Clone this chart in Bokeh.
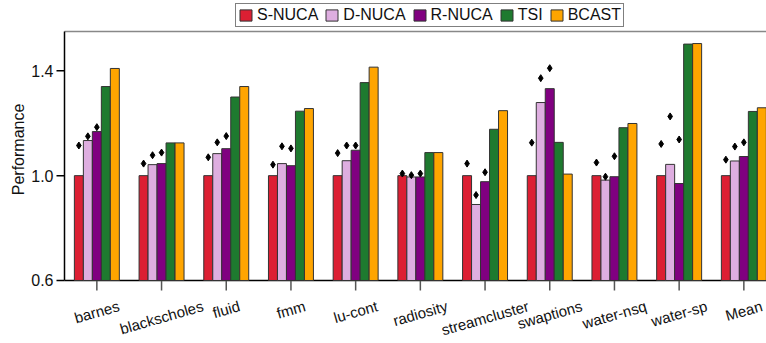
import math
from bokeh.plotting import figure
from bokeh.models import ColumnDataSource, Range1d, Legend, LegendItem, Label
from bokeh.embed import file_html
from bokeh.resources import INLINE
from bokeh.transform import dodge

# ---------------- data ----------------
benchmarks = ["barnes", "blackscholes", "fluid", "fmm", "lu-cont", "radiosity",
              "streamcluster", "swaptions", "water-nsq", "water-sp", "Mean"]
series_names = ["S-NUCA", "D-NUCA", "R-NUCA", "TSI", "BCAST"]

s_nuca = [1.000, 1.000, 1.000, 1.000, 1.000, 1.000, 1.000, 1.000, 1.000, 1.000, 1.000]
d_nuca = [1.134, 1.042, 1.084, 1.046, 1.057, 0.995, 0.890, 1.279, 0.983, 1.043, 1.056]
r_nuca = [1.168, 1.046, 1.103, 1.038, 1.097, 0.995, 0.977, 1.332, 0.996, 0.970, 1.073]
tsi    = [1.340, 1.125, 1.300, 1.246, 1.355, 1.088, 1.177, 1.127, 1.183, 1.502, 1.245]
bcast  = [1.409, 1.125, 1.340, 1.256, 1.414, 1.088, 1.248, 1.006, 1.199, 1.504, 1.259]

# diamond markers drawn above the first three bars of every group
s_nuca_marker = [1.115, 1.046, 1.070, 1.042, 1.086, 1.008, 1.046, 1.126, 1.050, 1.121, 1.061]
d_nuca_marker = [1.150, 1.078, 1.127, 1.112, 1.115, 1.002, 0.926, 1.372, 0.996, 1.226, 1.111]
r_nuca_marker = [1.185, 1.088, 1.151, 1.104, 1.115, 1.008, 1.013, 1.410, 1.074, 1.138, 1.127]

y_ticks = [0.6, 1.0, 1.4]
y_tick_labels = ["0.6", "1.0", "1.4"]
y_axis_top = 1.55
y_title = "Performance"
y_title_pos = 1.1

# ---------------- style / layout ----------------
colors = ["#DC1F33", "#DEAEE0", "#800080", "#1E7A2F", "#FFA500"]
FONT = "Liberation Sans"
TXT = "#111111"
BAR_W = 0.139
ANGLE_DEG = 16.0
# The plotting frame covers the whole canvas; axes are drawn with glyphs so that the
# legend above and the rotated labels below stay visible.
X_LO, X_HI = -1.4892, 10.3501
Y_LO, Y_HI = 0.3596, 1.6683
X_AXIS = -0.5          # left edge of the first group

n = len(benchmarks)
src = ColumnDataSource(dict(
    x=list(range(n)),
    s_nuca=s_nuca, d_nuca=d_nuca, r_nuca=r_nuca, tsi=tsi, bcast=bcast,
    s_m=s_nuca_marker, d_m=d_nuca_marker, r_m=r_nuca_marker,
))

p = figure(width=766, height=343, output_backend="svg", toolbar_location=None,
           x_range=Range1d(X_LO, X_HI), y_range=Range1d(Y_LO, Y_HI),
           x_axis_location=None, y_axis_location=None,
           min_border_left=0, min_border_right=0, min_border_top=0,
           min_border_bottom=0)
p.title.visible = False
p.outline_line_color = None
p.xgrid.visible = False
p.ygrid.visible = False
p.background_fill_color = "white"
p.border_fill_color = "white"

# frame lines: top (grey), baseline and left axis (black)
p.segment(x0=[X_AXIS], y0=[y_axis_top], x1=[X_HI], y1=[y_axis_top],
          line_color="#888888", line_width=1.5)
p.segment(x0=[X_AXIS], y0=[y_ticks[0]], x1=[X_HI], y1=[y_ticks[0]],
          line_color="black", line_width=1.5)
p.segment(x0=[X_AXIS], y0=[y_ticks[0]], x1=[X_AXIS], y1=[y_axis_top],
          line_color="black", line_width=1.5)

# x ticks (below baseline) and y ticks (left of axis)
p.ray(x=list(range(n)), y=[y_ticks[0]] * n, length=10, length_units="screen",
      angle=-math.pi / 2, line_color="#555555", line_width=1.5)
p.ray(x=[X_AXIS] * len(y_ticks), y=y_ticks, length=8, length_units="screen",
      angle=math.pi, line_color="black", line_width=1.5)

cols = ["s_nuca", "d_nuca", "r_nuca", "tsi", "bcast"]
renderers = []
for k, (col, c) in enumerate(zip(cols, colors)):
    r = p.vbar(x=dodge("x", (k - 2) * BAR_W, range=p.x_range), top=col,
               bottom=y_ticks[0], width=BAR_W, source=src, fill_color=c,
               line_color="#333333", line_width=1)
    renderers.append(r)

for k, col in enumerate(["s_m", "d_m", "r_m"]):
    p.scatter(x=dodge("x", (k - 2) * BAR_W, range=p.x_range), y=col, source=src,
              marker="diamond", size=7, fill_color="black", line_color="black")

# y tick labels and y title
for yv, lab in zip(y_ticks, y_tick_labels):
    p.add_layout(Label(x=X_AXIS, y=yv, text=lab, x_offset=-11, text_align="right",
                       text_baseline="middle", text_font=FONT, text_font_size="16px",
                       text_color=TXT))
p.add_layout(Label(x=X_AXIS, y=y_title_pos, text=y_title, x_offset=-46,
                   angle=math.pi / 2, text_align="center", text_baseline="middle",
                   text_font=FONT, text_font_size="16px", text_color=TXT))

# rotated, centred category labels (top of their bounding boxes aligned)
HELV = {"a": 556, "b": 556, "c": 500, "d": 556, "e": 556, "f": 278, "h": 556, "i": 222,
        "k": 500, "l": 222, "m": 833, "n": 556, "o": 556, "p": 556, "q": 556, "r": 333,
        "s": 500, "t": 278, "u": 556, "w": 722, "y": 500, "-": 333, "M": 833}
fs = 15
th = math.radians(ANGLE_DEG)
for i, name in enumerate(benchmarks):
    L = sum(HELV.get(ch, 556) for ch in name) / 1000.0 * fs
    off = 25.0 + (L / 2.0) * math.sin(th)
    p.add_layout(Label(x=i, y=y_ticks[0], text=name, angle=th, angle_units="rad",
                       text_align="center", text_baseline="middle", y_offset=-off,
                       text_font=FONT, text_font_size=f"{fs}px", text_color=TXT))

legend = Legend(items=[LegendItem(label=nm, renderers=[r]) for nm, r in zip(series_names, renderers)],
                orientation="horizontal", location=(235, 316), padding=2, spacing=6,
                label_standoff=4, glyph_width=15, glyph_height=14, label_height=18,
                margin=0, label_text_font=FONT, label_text_font_size="16px",
                label_text_color=TXT,
                border_line_color="black", border_line_width=1,
                background_fill_color="white", background_fill_alpha=1)
p.add_layout(legend)

open("out.html", "w").write(file_html(p, INLINE))
